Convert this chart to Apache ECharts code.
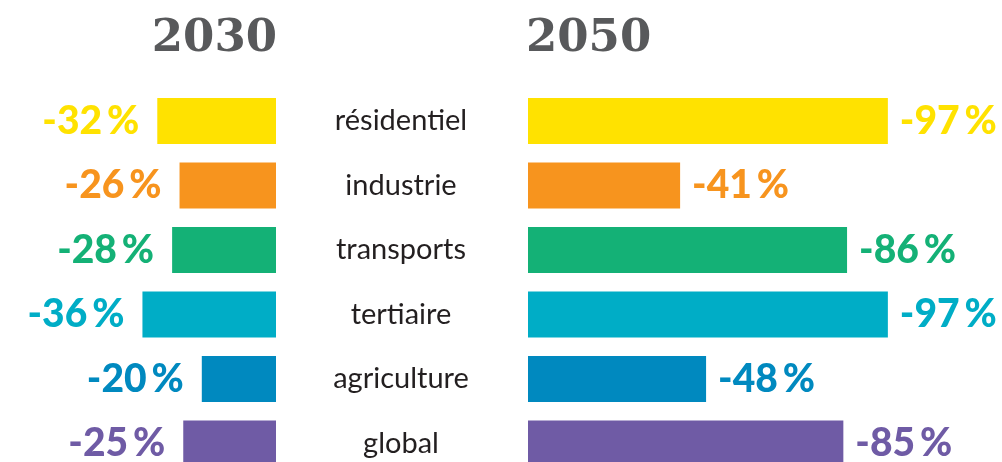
<!DOCTYPE html>
<html>
<head>
	<meta charset="utf-8">
	<title></title>
	<script src="https://cdn.jsdelivr.net/npm/echarts@6/dist/echarts.min.js"></script>
	<style>
		html,body{margin:0;padding:0;background:#fff;}
		#chart{width:1002px;height:462px;}
	</style>
</head>
<body>
	<div id="chart"></div>
</body>
<script type="text/javascript">
	let categories=['résidentiel','industrie','transports','tertiaire','agriculture','global'];
	let values2030=[-32,-26,-28,-36,-20,-25];
	let values2050=[-97,-41,-86,-97,-48,-85];
	let colors=['#FFE200','#F7941E','#14B176','#00ADC6','#0089BF','#6F5BA5'];
	let titles=['2030','2050'];

	// px per percent, same on both sides
	let k=3.71;
	let gridTop=88.75, gridH=387;

	function barData(vals){
		return vals.map((v,i)=>({
			value:v,
			itemStyle:{color:colors[i]},
			label:{color:colors[i]}
		}));
	}

	var myChart=echarts.init(document.getElementById('chart'),null,{renderer:'canvas'});
	var labelFont={fontFamily:'Lato',fontWeight:900,fontSize:39,padding:[4,0,0,0]};
	var titleStyle={fontFamily:'DejaVu Serif',fontWeight:'bold',fontSize:45,color:'#58595B'};
	var option={
		animation:false,
		title:[
			{text:titles[0],right:1002-277,top:17,padding:0,textStyle:titleStyle},
			{text:titles[1],left:526,top:17,padding:0,textStyle:titleStyle}
		],
		grid:[
			{left:276-40*k,width:40*k,top:gridTop,height:gridH,outerBoundsMode:'none'},
			{left:528,width:100*k,top:gridTop,height:gridH,outerBoundsMode:'none'}
		],
		xAxis:[
			{gridIndex:0,type:'value',min:-40,max:0,show:false},
			{gridIndex:1,type:'value',min:-100,max:0,inverse:true,show:false}
		],
		yAxis:[
			{gridIndex:0,type:'category',data:categories,inverse:true,show:false},
			{gridIndex:1,type:'category',data:categories,inverse:true,
				axisLine:{show:false},axisTick:{show:false},
				axisLabel:{align:'center',margin:127,padding:[14,0,0,0],
					fontFamily:'Lato',fontSize:29,color:'#231F20'}}
		],
		series:[
			{type:'bar',xAxisIndex:0,yAxisIndex:0,barWidth:46,data:barData(values2030),
				label:Object.assign({show:true,position:'left',distance:18,
					formatter:p=>p.value+'\u2009%'},labelFont)},
			{type:'bar',xAxisIndex:1,yAxisIndex:1,barWidth:46,data:barData(values2050),
				label:Object.assign({show:true,position:'right',distance:12,
					formatter:p=>p.value+'\u2009%'},labelFont)}
		]
	};
	myChart.setOption(option);
	window.addEventListener('resize',()=>{
		myChart.resize();
	});
</script>
</html>
